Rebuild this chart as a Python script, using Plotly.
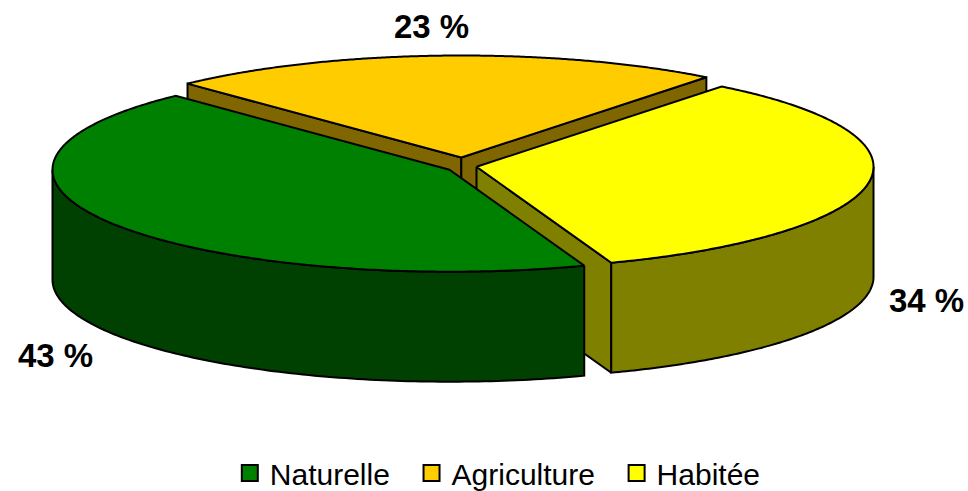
import numpy as np
import plotly.graph_objects as go

categories = ["Naturelle", "Agriculture", "Habitée"]
shares = [43.4, 22.7, 33.9]
top_colors = ["#008000", "#FFCC00", "#FFFF00"]
side_colors = ["#004000", "#806600", "#808000"]

# Pie geometry (pixels on the canvas)
CANVAS_W, CANVAS_H = 968, 499
CX, CY = 462.0, 165.5
RX, RY = 397.0, 102.0
DEPTH = 110.0
EXPLODE_X, EXPLODE_Y = 14.7, 8.0
START_DEG = 316.4  # where Agriculture starts, clockwise from the back
LW = 2
LABEL_NUDGE = {"Naturelle": (-6, 6), "Agriculture": (-8, 1), "Habitée": (-1, 3)}
LEGEND_PAD = {"Naturelle": "\u00a0\u00a0", "Agriculture": "\u00a0\u00a0", "Habitée": ""}

order = [1, 2, 0]  # clockwise from START_DEG, also back-to-front paint order
wedges = {}
a = START_DEG
for i in order:
    sweep = shares[i] / 100 * 360
    wedges[i] = (a, a + sweep)
    a += sweep


def apex(i):
    m = np.radians(sum(wedges[i]) / 2)
    return CX + EXPLODE_X * np.sin(m), CY - EXPLODE_Y * np.cos(m)


def rim(i, t_deg):
    t = np.radians(t_deg)
    ax, ay = apex(i)
    return ax + RX * np.sin(t), ay - RY * np.cos(t)


fig = go.Figure()


def poly(xs, ys, color):
    fig.add_trace(go.Scatter(
        x=list(xs), y=list(ys), mode="lines", fill="toself", fillcolor=color,
        line=dict(color="black", width=LW, simplify=False),
        showlegend=False, hoverinfo="skip"))


def radial_wall(i, t_deg):
    ax, ay = apex(i)
    rx, ry = rim(i, t_deg)
    poly([ax, rx, rx, ax, ax], [ay, ry, ry + DEPTH, ay + DEPTH, ay], side_colors[i])


def outer_wall(i):
    s, e = wedges[i]
    for k in (-1, 0, 1, 2):
        lo, hi = max(s, 90 + 360 * k), min(e, 270 + 360 * k)
        if hi > lo:
            ts = np.linspace(lo, hi, 120)
            pts = [rim(i, t) for t in ts]
            xs = [p[0] for p in pts]
            ys = [p[1] for p in pts]
            poly(xs + xs[::-1] + [xs[0]], ys + [y + DEPTH for y in ys[::-1]] + [ys[0]], side_colors[i])


def top(i):
    s, e = wedges[i]
    ax, ay = apex(i)
    pts = [rim(i, t) for t in np.linspace(s, e, 240)]
    poly([ax] + [p[0] for p in pts] + [ax], [ay] + [p[1] for p in pts] + [ay], top_colors[i])


for i in order:
    s, e = wedges[i]
    for t in (s, e):
        # only walls facing the viewer are painted
        if i == 1 or (i == 2 and t == e):
            radial_wall(i, t)
    outer_wall(i)
    top(i)

# Legend entries
for name, col in zip(categories, top_colors):
    fig.add_trace(go.Scatter(
        x=[None], y=[None], mode="markers", name=name + LEGEND_PAD[name],
        marker=dict(symbol="square", size=16, color=col, line=dict(color="black", width=2))))

# Percentage labels
for i, name in enumerate(categories):
    m = np.radians(sum(wedges[i]) / 2)
    ax, ay = apex(i)
    lx = ax + 1.15 * RX * np.sin(m)
    ly = ay - 1.3 * RY * np.cos(m) + (DEPTH if np.cos(m) < 0 else 0)
    dx, dy = LABEL_NUDGE[name]
    fig.add_annotation(x=lx, y=ly, text=f"<b>{round(shares[i])} %</b>", showarrow=False,
                       xshift=dx, yshift=-dy,
                       font=dict(family="Liberation Sans, Arial, sans-serif", size=33, color="black"),
                       xanchor="center", yanchor="middle")

fig.update_layout(
    width=CANVAS_W, height=CANVAS_H, margin=dict(l=0, r=0, t=0, b=0),
    paper_bgcolor="white", plot_bgcolor="white",
    xaxis=dict(range=[0, CANVAS_W], visible=False, fixedrange=True),
    yaxis=dict(range=[CANVAS_H, 0], visible=False, fixedrange=True),
    font=dict(family="Liberation Sans, Arial, sans-serif", color="black"),
    legend=dict(orientation="h", x=0.2374, xanchor="left", y=0, yanchor="bottom",
                font=dict(size=30), itemwidth=30, bgcolor="rgba(0,0,0,0)"),
    showlegend=True,
)

fig.write_html("out.html", config={"displayModeBar": False},
               post_script="document.body.style.margin='0';document.body.style.overflow='hidden';")
